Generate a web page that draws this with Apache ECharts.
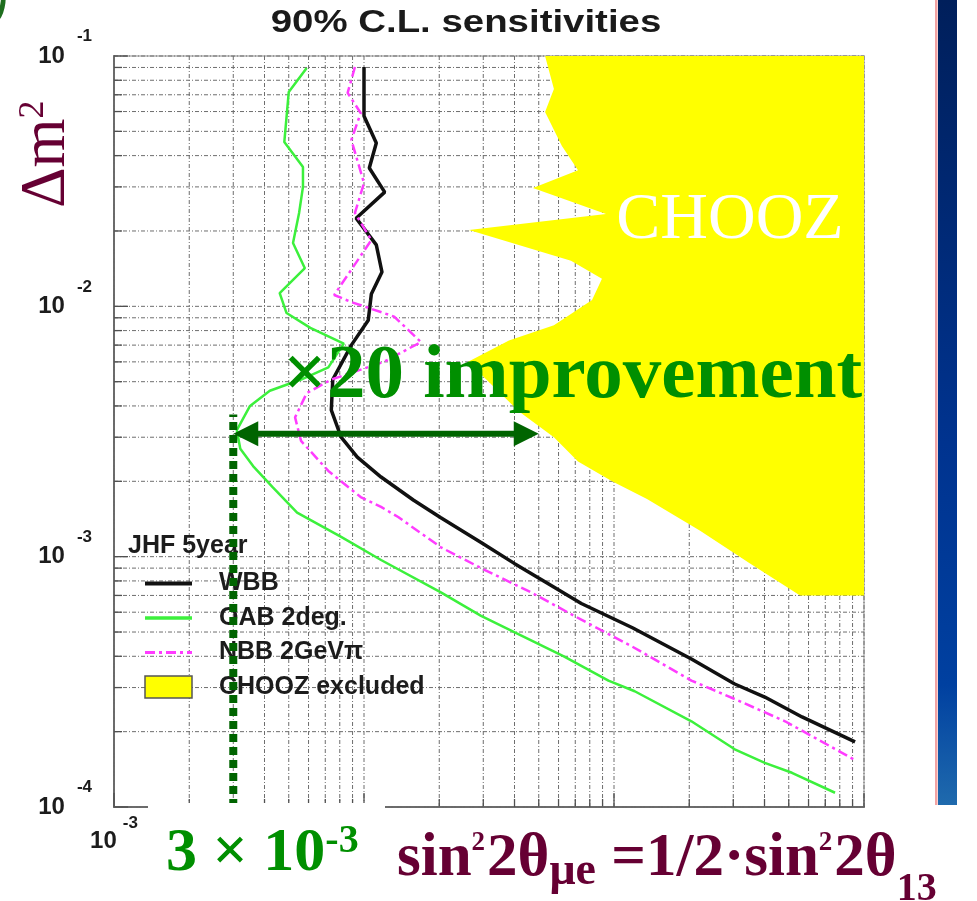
<!DOCTYPE html>
<html>
<head>
<meta charset="utf-8">
<script src="https://cdn.jsdelivr.net/npm/echarts@6/dist/echarts.min.js"></script>
<style>
html, body { margin: 0; padding: 0; background: #ffffff; }
#chart { width: 977px; height: 901px; }
</style>
</head>
<body>
<div id="chart"></div>
<script>
// 90% C.L. sensitivity contours, x = sin^2 2θ_μe, y = Δm^2 [eV^2]
const wbb = [
  [0.0100, 0.0904], [0.0100, 0.0576], [0.0112, 0.0449], [0.0105, 0.0357], [0.0121, 0.0286],
  [0.0093, 0.0225], [0.0112, 0.0176], [0.0118, 0.0137], [0.0107, 0.0112], [0.0104, 0.0088],
  [0.0089, 0.0070], [0.0075, 0.0051], [0.0074, 0.00385], [0.0081, 0.0030], [0.0094, 0.0025],
  [0.0117, 0.00208], [0.0158, 0.00168], [0.0203, 0.00143], [0.0294, 0.00114], [0.0399, 0.00094],
  [0.0546, 0.00078], [0.074, 0.00065], [0.1185, 0.00052], [0.204, 0.00039], [0.304, 0.00031],
  [0.401, 0.000275], [0.565, 0.000229], [0.921, 0.000182]
];
const oab = [
  [0.0059, 0.0896], [0.0050, 0.0718], [0.0048, 0.0453], [0.0057, 0.0360], [0.0057, 0.0300],
  [0.0055, 0.0236], [0.0052, 0.0179], [0.0058, 0.0142], [0.0046, 0.0113], [0.0049, 0.0094],
  [0.0061, 0.0082], [0.0083, 0.0071], [0.0072, 0.0057], [0.0056, 0.0051], [0.0042, 0.0046],
  [0.0035, 0.0040], [0.0031, 0.0032], [0.0032, 0.0027], [0.0036, 0.0023], [0.0043, 0.0019],
  [0.0054, 0.0015], [0.0081, 0.0012], [0.0117, 0.00097], [0.0203, 0.00072], [0.0294, 0.00058],
  [0.0399, 0.00050], [0.063, 0.00040], [0.095, 0.00032], [0.121, 0.00029], [0.204, 0.00022],
  [0.304, 0.00017], [0.401, 0.00015], [0.515, 0.000137], [0.766, 0.000114]
];
const nbb = [
  [0.0092, 0.0904], [0.0086, 0.0712], [0.0097, 0.0592], [0.0089, 0.0462], [0.0100, 0.0311],
  [0.0092, 0.0236], [0.0107, 0.0184], [0.0076, 0.0111], [0.0089, 0.0104], [0.0132, 0.0091],
  [0.0169, 0.0072], [0.0120, 0.0060], [0.0074, 0.0051], [0.0059, 0.0045], [0.0053, 0.0036],
  [0.0056, 0.0029], [0.0072, 0.0022], [0.0097, 0.00173], [0.0117, 0.00158], [0.0137, 0.00144],
  [0.0203, 0.00109], [0.0294, 0.00090], [0.0466, 0.00072], [0.074, 0.00056], [0.117, 0.00044],
  [0.204, 0.00032], [0.304, 0.00027], [0.483, 0.00022], [0.921, 0.000154]
];
// CHOOZ excluded region: left boundary from top to bottom, closed along x = 1
const choozExcluded = [
  [0.0530, 0.1], [0.0575, 0.0738], [0.0530, 0.0598], [0.0619, 0.0437], [0.0718, 0.0350],
  [0.0474, 0.0297], [0.0929, 0.0234], [0.0263, 0.0202], [0.0673, 0.0152], [0.0895, 0.0129],
  [0.0817, 0.0106], [0.0575, 0.0084], [0.0380, 0.0073], [0.0261, 0.0060], [0.0417, 0.0038],
  [0.0575, 0.0030], [0.0718, 0.0024], [0.0982, 0.0020], [0.1355, 0.0017], [0.221, 0.00127],
  [0.350, 0.00094], [0.555, 0.00070], [1, 0.00070], [1, 0.1]
];

// axis ranges and log grid
const xRange = [0.001, 1];
const yRange = [0.0001, 0.1];
const mantissas = [1, 2, 3, 4, 5, 6, 7, 8, 9];
const xDecades = [0.001, 0.01, 0.1, 1];
const yDecades = [0.0001, 0.001, 0.01, 0.1];

// ×20 annotation: OAB reach vs. CHOOZ limit
const reachX = [0.003];
const reachSpan = [[0.003, 0.0031, 0.05]];
const reachMarkTop = [0.0037];

const buildGrid = decades => {
  const out = [];
  decades.forEach((d, i) => {
    const ms = i === decades.length - 1 ? [1] : mantissas;
    ms.forEach(m => out.push(+(m * d).toPrecision(4)));
  });
  return out;
};
const xGrid = buildGrid(xDecades);
const yGrid = buildGrid(yDecades);
const isDecade = v => Math.abs(Math.log10(v) - Math.round(Math.log10(v))) < 1e-6;

const GRID_STROKE = '#6e6e6e';
const TICK_STROKE = '#505050';
const sans = 'Liberation Sans, Arial, sans-serif';
const serif = 'Liberation Serif, Times New Roman, serif';
const MAROON = '#660033';
const GREEN = '#008f00';

// lays out a run of text pieces along one baseline (super/subscripts via dy)
const measureCtx = document.createElement('canvas').getContext('2d');
function flowText(x0, baseline, pieces, font) {
  let x = x0;
  return pieces.map(p => {
    measureCtx.font = `${font.weight} ${p.size}px ${font.family}`;
    const w = measureCtx.measureText(p.text).width;
    const el = {
      type: 'text', x: x, y: baseline + (p.dy || 0) - 0.3375 * p.size, z: 10,
      style: { text: p.text, fontSize: p.size, fontWeight: font.weight, fontFamily: font.family,
        fill: font.fill, align: 'left', verticalAlign: 'middle' }
    };
    x += w + (p.gap || 0);
    return el;
  });
}

const formulaPieces = [
  { text: 'sin', size: 61 },
  { text: '2', size: 27, dy: -28, gap: 2 },
  { text: '2θ', size: 61 },
  { text: 'μe', size: 46, dy: 8 },
  { text: ' =1/2·sin', size: 61 },
  { text: '2', size: 27, dy: -28, gap: 2 },
  { text: '2θ', size: 61 },
  { text: '13', size: 40, dy: 23 }
];
const reachPieces = [
  { text: '3 × 10', size: 62 },
  { text: '-3', size: 40, dy: -20 }
];

const chart = echarts.init(document.getElementById('chart'));

const labelRich = {
  a: { fontSize: 24, fontWeight: 'bold', fontFamily: sans, color: '#1c1c1c' },
  b: { fontSize: 17, lineHeight: 17, fontWeight: 'bold', verticalAlign: 'top', fontFamily: sans, color: '#1c1c1c' }
};

const option = {
  animation: false,
  backgroundColor: '#ffffff',
  grid: {
    left: 114, top: 56, width: 750, height: 751,
    show: true, borderColor: '#c4c4c4', borderWidth: 2, containLabel: false
  },
  xAxis: {
    type: 'log', logBase: 10, min: xRange[0], max: xRange[1],
    splitLine: { show: false }, axisTick: { show: false }, minorTick: { show: false },
    axisLine: { show: true, onZero: false, lineStyle: { color: '#6a6a6a', width: 2 } },
    axisLabel: {
      margin: 8,
      formatter: v => Math.abs(v - xRange[0]) < 1e-9 ? '{a|10}{b|' + Math.round(Math.log10(v)) + '}' : '',
      rich: {
        a: Object.assign({}, labelRich.a, { lineHeight: 38, verticalAlign: 'bottom' }),
        b: Object.assign({}, labelRich.b, { padding: [0, 0, 0, 6] })
      }
    }
  },
  yAxis: {
    type: 'log', logBase: 10, min: yRange[0], max: yRange[1],
    splitLine: { show: false }, axisTick: { show: false }, minorTick: { show: false },
    axisLine: { show: true, onZero: false, lineStyle: { color: '#6a6a6a', width: 2 } },
    axisLabel: {
      margin: 22,
      formatter: v => '{a|10}{b|' + Math.round(Math.log10(v)) + '}',
      rich: {
        a: Object.assign({}, labelRich.a, { lineHeight: 56, verticalAlign: 'middle' }),
        b: Object.assign({}, labelRich.b, { padding: [0, 0, 0, 12] })
      }
    }
  },
  legend: {
    orient: 'vertical', left: 143, top: 571, padding: 0,
    itemWidth: 47, itemHeight: 22, itemGap: 9.5, selectedMode: false,
    textStyle: { fontSize: 25, fontWeight: 'bold', fontFamily: sans, color: '#1c1c1c', padding: [0, 0, 0, 22], lineHeight: 24 },
    data: [
      { name: 'WBB', itemStyle: { opacity: 0 }, lineStyle: { width: 4 } },
      { name: 'OAB 2deg.', itemStyle: { opacity: 0 }, lineStyle: { width: 3.5 } },
      { name: 'NBB 2GeVπ', itemStyle: { opacity: 0 }, lineStyle: { width: 3 } },
      { name: 'CHOOZ excluded', icon: 'rect', itemStyle: { borderColor: '#555555', borderWidth: 1.5 } }
    ]
  },
  series: [
    {
      // vertical grid lines and bottom ticks
      type: 'custom', name: 'x grid', silent: true, z: 1,
      data: xGrid.map(v => [v, yRange[0]]), encode: { x: 0, y: 1 },
      renderItem: (params, api) => {
        const v = api.value(0);
        const p0 = api.coord([v, yRange[0]]);
        const p1 = api.coord([v, yRange[1]]);
        const len = isDecade(v) ? 14 : 8;
        return {
          type: 'group', children: [
            { type: 'line', shape: { x1: p0[0], y1: p0[1], x2: p1[0], y2: p1[1] },
              style: { stroke: GRID_STROKE, lineWidth: 1, lineDash: [4, 2, 1, 2] } },
            { type: 'line', shape: { x1: p0[0], y1: p0[1], x2: p0[0], y2: p0[1] - len },
              style: { stroke: TICK_STROKE, lineWidth: 1.3 } }
          ]
        };
      }
    },
    {
      // horizontal grid lines and left ticks
      type: 'custom', name: 'y grid', silent: true, z: 1,
      data: yGrid.map(v => [xRange[0], v]), encode: { x: 0, y: 1 },
      renderItem: (params, api) => {
        const v = api.value(1);
        const p0 = api.coord([xRange[0], v]);
        const p1 = api.coord([xRange[1], v]);
        const len = isDecade(v) ? 14 : 8;
        return {
          type: 'group', children: [
            { type: 'line', shape: { x1: p0[0], y1: p0[1], x2: p1[0], y2: p1[1] },
              style: { stroke: GRID_STROKE, lineWidth: 1, lineDash: [4, 2, 1, 2] } },
            { type: 'line', shape: { x1: p0[0], y1: p0[1], x2: p0[0] + len, y2: p0[1] },
              style: { stroke: TICK_STROKE, lineWidth: 1.3 } }
          ]
        };
      }
    },
    {
      type: 'custom', name: 'CHOOZ excluded', silent: true, z: 2,
      itemStyle: { color: '#ffff00' },
      data: choozExcluded, encode: { x: 0, y: 1 },
      renderItem: (params, api) => {
        if (params.dataIndex !== 0) return null;
        const pts = choozExcluded.map(p => api.coord(p));
        return { type: 'polygon', shape: { points: pts }, style: { fill: '#ffff00', stroke: null } };
      }
    },
    {
      type: 'line', name: 'WBB', data: wbb, symbol: 'none', z: 3, silent: true,
      lineStyle: { color: '#111111', width: 3.5 }, itemStyle: { color: '#111111' }
    },
    {
      type: 'line', name: 'OAB 2deg.', data: oab, symbol: 'none', z: 3, silent: true,
      lineStyle: { color: '#3cf03c', width: 2.5 }, itemStyle: { color: '#3cf03c' }
    },
    {
      type: 'line', name: 'NBB 2GeVπ', data: nbb, symbol: 'none', z: 3, silent: true,
      lineStyle: { color: '#ff3cff', width: 2.5, type: [10, 4, 3, 4] }, itemStyle: { color: '#ff3cff' }
    },
    {
      // dotted marker at the OAB reach
      type: 'custom', name: 'reach marker', silent: true, z: 6,
      data: reachX.map((x, i) => [x, yRange[0], reachMarkTop[i]]), encode: { x: 0, y: 1 },
      renderItem: (params, api) => {
        const p0 = api.coord([api.value(0), api.value(1)]);
        const p1 = api.coord([api.value(0), api.value(2)]);
        return { type: 'line', shape: { x1: p0[0], y1: p0[1], x2: p1[0], y2: p1[1] },
          style: { stroke: '#006400', lineWidth: 8, lineDash: [8, 5] } };
      }
    },
    {
      // double-headed arrow across the ×20 gap
      type: 'custom', name: 'reach arrow', silent: true, z: 6,
      data: reachSpan, encode: { x: 0, y: 1 },
      renderItem: (params, api) => {
        const a = api.coord([api.value(0), api.value(1)]);
        const b = api.coord([api.value(2), api.value(1)]);
        const hl = 25, hw = 12.5;
        return {
          type: 'group', children: [
            { type: 'line', shape: { x1: a[0] + hl - 2, y1: a[1], x2: b[0] - hl + 2, y2: b[1] },
              style: { stroke: '#006400', lineWidth: 6 } },
            { type: 'polygon', shape: { points: [[a[0], a[1]], [a[0] + hl, a[1] - hw], [a[0] + hl, a[1] + hw]] },
              style: { fill: '#006400' } },
            { type: 'polygon', shape: { points: [[b[0], b[1]], [b[0] - hl, b[1] - hw], [b[0] - hl, b[1] + hw]] },
              style: { fill: '#006400' } }
          ]
        };
      }
    }
  ],
  graphic: [
    { type: 'text', x: 466, y: 23, scaleX: 1.2, z: 10,
      style: { text: '90% C.L. sensitivities', fontSize: 32, fontWeight: 'bold', fontFamily: sans,
        fill: '#1a1a1a', align: 'center', verticalAlign: 'middle' } },
    { type: 'text', x: -10, y: -22, z: 10,
      style: { text: ')', fontSize: 52, fontStyle: 'italic', fontFamily: serif, fill: '#1e6e1e',
        align: 'left', verticalAlign: 'top' } },
    { type: 'text', x: 47, y: 208, rotation: Math.PI / 2, z: 10,
      style: { text: '{d|Δm}{s|2}', align: 'left', verticalAlign: 'middle',
        rich: {
          d: { fontSize: 63, lineHeight: 63, fontFamily: serif, fill: MAROON, verticalAlign: 'middle' },
          s: { fontSize: 36, lineHeight: 43, fontFamily: serif, fill: MAROON, verticalAlign: 'top' }
        } } },
    { type: 'text', x: 128, y: 546, z: 4,
      style: { text: 'JHF 5year', fontSize: 25, fontWeight: 'bold', fontFamily: sans, fill: '#1c1c1c',
        align: 'left', verticalAlign: 'middle' } },
    { type: 'text', x: 730, y: 221, z: 10,
      style: { text: 'CHOOZ', fontSize: 66, fontFamily: serif, fill: '#ffffff', align: 'center', verticalAlign: 'middle' } },
    { type: 'text', x: 283, y: 377, z: 10,
      style: { text: '×20 improvement', fontSize: 77, fontWeight: 'bold', fontFamily: serif, fill: GREEN,
        align: 'left', verticalAlign: 'middle' } },
    { type: 'rect', shape: { x: 148, y: 803, width: 237, height: 98 }, z: 9, style: { fill: '#ffffff' } },
    ...flowText(166, 875, reachPieces, { weight: 'bold', family: serif, fill: GREEN }),
    ...flowText(397, 880, formulaPieces, { weight: 'bold', family: serif, fill: MAROON }),
    { type: 'rect', shape: { x: 935, y: 0, width: 2.5, height: 805 }, z: 10, style: { fill: '#f3a3a3' } },
    { type: 'rect', shape: { x: 938, y: 0, width: 19, height: 805 }, z: 10,
      style: { fill: new echarts.graphic.LinearGradient(0, 0, 0, 1, [
        { offset: 0, color: '#001f5b' },
        { offset: 0.55, color: '#00338f' },
        { offset: 0.85, color: '#0040a0' },
        { offset: 1, color: '#1f6aad' }
      ]) } }
  ]
};

chart.setOption(option);
</script>
</body>
</html>
